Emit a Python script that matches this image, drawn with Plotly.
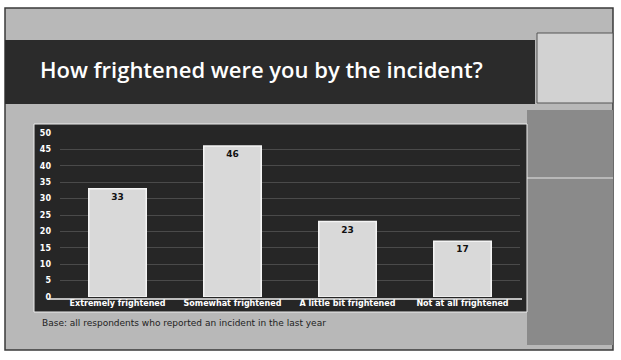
import plotly.graph_objects as go

# Survey responses: share of respondents (%) by level of fright
categories = ["Extremely frightened", "Somewhat frightened",
              "A little bit frightened", "Not at all frightened"]
percent = [33, 46, 23, 17]
y_ticks = [0, 5, 10, 15, 20, 25, 30, 35, 40, 45, 50]

title_text = "How frightened were you by the incident?"
note_text = "Base: all respondents who reported an incident in the last year"

W, H = 621, 360
ML, MR, MT, MB = 60, 101, 133, 63
PW, PH = W - ML - MR, H - MT - MB


# Paper coordinates in Plotly are relative to the plot area, so convert
# page pixels into that frame.
def px_x(v):
    return (v - ML) / PW


def px_y(v):
    return (H - MB - v) / PH


fig = go.Figure()
fig.add_trace(go.Bar(
    x=categories,
    y=percent,
    width=0.5,
    marker=dict(color="#d9d9d9", line=dict(color="#f4f4f4", width=1.5)),
    text=[str(v) for v in percent],
    textposition="inside",
    insidetextanchor="end",
    textfont=dict(family="DejaVu Sans", size=9, color="#111111", weight="bold"),
    hoverinfo="skip",
))

shapes = [
    # slide body
    dict(type="rect", xref="paper", yref="paper", x0=px_x(5), x1=px_x(613),
         y0=px_y(350), y1=px_y(8), fillcolor="#b8b8b8",
         line=dict(color="#3a3a3a", width=1.5), layer="below"),
    # heading band
    dict(type="rect", xref="paper", yref="paper", x0=px_x(5), x1=px_x(535),
         y0=px_y(104), y1=px_y(40), fillcolor="#2b2b2b", line=dict(width=0),
         layer="below"),
    # accent box on the right
    dict(type="rect", xref="paper", yref="paper", x0=px_x(537), x1=px_x(613),
         y0=px_y(103), y1=px_y(33), fillcolor="#d2d2d2",
         line=dict(color="#555555", width=1), layer="below"),
    # darker right-hand column
    dict(type="rect", xref="paper", yref="paper", x0=px_x(527), x1=px_x(613),
         y0=px_y(345), y1=px_y(110), fillcolor="#8a8a8a", line=dict(width=0),
         layer="below"),
    dict(type="line", xref="paper", yref="paper", x0=px_x(527), x1=px_x(613),
         y0=px_y(178), y1=px_y(178), line=dict(color="#e6e6e6", width=1),
         layer="below"),
    # chart panel
    dict(type="rect", xref="paper", yref="paper", x0=px_x(34), x1=px_x(527),
         y0=px_y(312), y1=px_y(124), fillcolor="#262626",
         line=dict(color="#eeeeee", width=1), layer="below"),
    # baseline under the bars
    dict(type="line", xref="paper", yref="paper", x0=px_x(48), x1=px_x(522),
         y0=px_y(299), y1=px_y(299), line=dict(color="#f0f0f0", width=1.5)),
]

annotations = [
    dict(text=title_text, xref="paper", yref="paper", x=px_x(38), y=px_y(69),
         xanchor="left", yanchor="middle", showarrow=False,
         font=dict(family="Open Sans", size=22, color="#ffffff", weight=600)),
    dict(text=note_text, xref="paper", yref="paper", x=px_x(40), y=px_y(323),
         xanchor="left", yanchor="middle", showarrow=False,
         font=dict(family="DejaVu Sans", size=9, color="#222222")),
]

fig.update_layout(
    width=W, height=H,
    margin=dict(l=ML, r=MR, t=MT, b=MB),
    paper_bgcolor="#ffffff",
    plot_bgcolor="rgba(0,0,0,0)",
    showlegend=False,
    shapes=shapes,
    annotations=annotations,
    xaxis=dict(
        tickfont=dict(family="DejaVu Sans", size=8, color="#ffffff",
                      weight="bold"),
        showgrid=False, showline=False, ticks="",
        ticklabelstandoff=0, fixedrange=True,
    ),
    yaxis=dict(
        range=[0, 50], tickvals=y_ticks,
        tickfont=dict(family="DejaVu Sans", size=8, color="#ffffff",
                      weight="bold"),
        showgrid=True, gridcolor="#4a4a4a", gridwidth=1,
        zeroline=False, showline=False, ticks="",
        ticklabelstandoff=8, fixedrange=True,
    ),
)

fig.write_html("out.html")
